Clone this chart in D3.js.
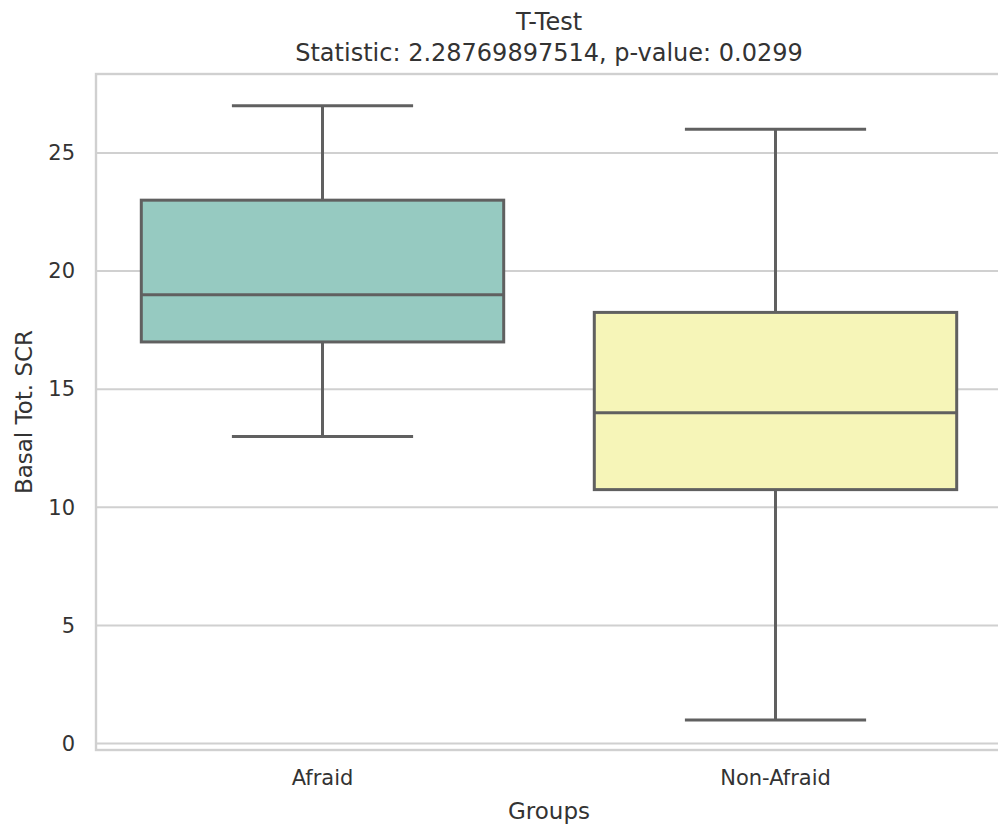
<!DOCTYPE html>
<html>
<head>
<meta charset="utf-8">
<script src="https://cdn.jsdelivr.net/npm/d3@7"></script>
<style>
  body { margin: 0; background: #fff; }
  svg { display: block; font-family: "DejaVu Sans", sans-serif; }
</style>
</head>
<body>
<svg id="chart" width="998" height="830"></svg>
<script>
// values
var groups = ['Afraid', 'Non-Afraid'];
var whiskerLow = [13, 1];
var q1 = [17, 10.75];
var medians = [19, 14];
var q3 = [23, 18.25];
var whiskerHigh = [27, 26];
var boxColors = ['#96cac1', '#f6f5b8'];
var yTicks = [0, 5, 10, 15, 20, 25];

var titleLines = ['T-Test', 'Statistic: 2.28769897514, p-value: 0.0299'];
var xLabel = 'Groups';
var yLabel = 'Basal Tot. SCR';

var margin = {left: 96, top: 74, right: 1002, bottom: 750};
var svg = d3.select('#chart');

var x = d3.scaleBand().domain(groups).range([margin.left, margin.right]).paddingInner(0).paddingOuter(0);
var y = d3.scaleLinear().domain([-0.27, 28.34]).range([margin.bottom, margin.top]);

var gridColor = '#d0d0d0';
var edge = '#606060';

// grid
svg.append('g').selectAll('line').data(yTicks).enter().append('line')
  .attr('x1', margin.left).attr('x2', margin.right)
  .attr('y1', function(d){ return y(d); }).attr('y2', function(d){ return y(d); })
  .attr('stroke', gridColor).attr('stroke-width', 2);

// spines
svg.append('rect')
  .attr('x', margin.left).attr('y', margin.top)
  .attr('width', margin.right - margin.left).attr('height', margin.bottom - margin.top)
  .attr('fill', 'none').attr('stroke', gridColor).attr('stroke-width', 2.4);

// y axis
var yAxis = d3.axisLeft(y).tickValues(yTicks).tickSize(0).tickPadding(21);
var gy = svg.append('g').attr('transform', 'translate(' + margin.left + ',0)').call(yAxis);
gy.select('.domain').remove();
gy.selectAll('text').attr('font-size', 21).attr('fill', '#333').attr('font-family', '"DejaVu Sans", sans-serif');

// x axis
var xAxis = d3.axisBottom(x).tickSize(0).tickPadding(20);
var gx = svg.append('g').attr('transform', 'translate(0,' + margin.bottom + ')').call(xAxis);
gx.select('.domain').remove();
gx.selectAll('text').attr('font-size', 21).attr('fill', '#333').attr('font-family', '"DejaVu Sans", sans-serif');

// boxes
var bw = x.bandwidth() * 0.8;
var boxes = svg.append('g').selectAll('g').data(groups).enter().append('g');

boxes.each(function(g, i) {
  var sel = d3.select(this);
  var cx = x(g) + x.bandwidth() / 2;
  // whiskers
  sel.append('line').attr('x1', cx).attr('x2', cx)
    .attr('y1', y(q3[i])).attr('y2', y(whiskerHigh[i]))
    .attr('stroke', edge).attr('stroke-width', 3);
  sel.append('line').attr('x1', cx).attr('x2', cx)
    .attr('y1', y(q1[i])).attr('y2', y(whiskerLow[i]))
    .attr('stroke', edge).attr('stroke-width', 3);
  // caps
  [whiskerHigh[i], whiskerLow[i]].forEach(function(v) {
    sel.append('line').attr('x1', cx - bw / 4).attr('x2', cx + bw / 4)
      .attr('y1', y(v)).attr('y2', y(v))
      .attr('stroke', edge).attr('stroke-width', 3);
  });
  sel.append('rect')
    .attr('x', cx - bw / 2).attr('y', y(q3[i]))
    .attr('width', bw).attr('height', y(q1[i]) - y(q3[i]))
    .attr('fill', boxColors[i]).attr('stroke', edge).attr('stroke-width', 3);
  sel.append('line').attr('x1', cx - bw / 2).attr('x2', cx + bw / 2)
    .attr('y1', y(medians[i])).attr('y2', y(medians[i]))
    .attr('stroke', edge).attr('stroke-width', 3);
});

// titles and labels
var cxPlot = (margin.left + margin.right) / 2;
svg.append('text').attr('x', cxPlot).attr('y', 30)
  .attr('text-anchor', 'middle').attr('font-size', 24).attr('fill', '#333').text(titleLines[0]);
svg.append('text').attr('x', cxPlot).attr('y', 61)
  .attr('text-anchor', 'middle').attr('font-size', 24).attr('fill', '#333').text(titleLines[1]);

svg.append('text').attr('x', cxPlot).attr('y', 819)
  .attr('text-anchor', 'middle').attr('font-size', 23).attr('fill', '#333').text(xLabel);

svg.append('text')
  .attr('transform', 'translate(32,' + ((margin.top + margin.bottom) / 2) + ') rotate(-90)')
  .attr('text-anchor', 'middle').attr('font-size', 23).attr('fill', '#333').text(yLabel);
</script>
</body>
</html>
